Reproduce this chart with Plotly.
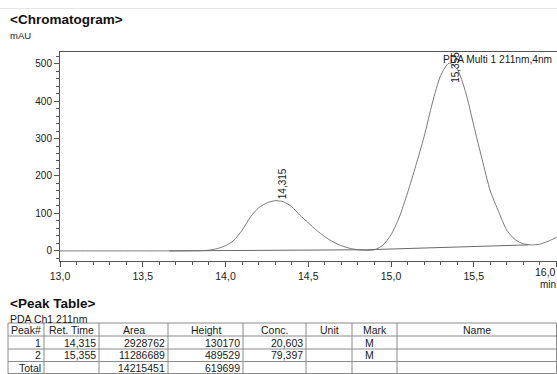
import plotly.graph_objects as go

W, H = 557, 374

# ---------------- data ----------------
time_min = [13.00, 13.05, 13.10, 13.15, 13.20, 13.25, 13.30, 13.35, 13.40, 13.45,
            13.50, 13.55, 13.60, 13.65, 13.70, 13.75, 13.80, 13.85, 13.90, 13.95,
            14.00, 14.05, 14.10, 14.15, 14.20, 14.25, 14.30, 14.35, 14.40, 14.45,
            14.50, 14.55, 14.60, 14.65, 14.70, 14.75, 14.80, 14.85, 14.90, 14.95,
            15.00, 15.05, 15.10, 15.15, 15.20, 15.25, 15.30, 15.35, 15.40, 15.45,
            15.50, 15.55, 15.60, 15.65, 15.70, 15.75, 15.80, 15.85, 15.90, 15.95,
            16.00]
signal_mau = [0, 0, 0, 0, 0, 0, 0, 0, 0, 0,
              0, 0, 0, 0, 0, 0.1, 0.2, 0.5, 2, 6,
              14, 28, 55, 90, 115, 128, 134, 131, 118, 95,
              75, 55, 38, 24, 14, 7, 3, 1.5, 3, 15,
              43, 90, 155, 228, 305, 395, 468, 501, 485, 425,
              335, 245, 160, 105, 55, 30, 19, 16, 18, 26,
              36]

baseline_time = [13.66, 14.85, 15.83]
baseline_mau = [0, 3, 16]

peak_rt = [14.315, 15.355]
peak_label = ["14,315", "15,355"]
peak_label_y = [133, 444]

x_tick_vals = [13.0, 13.5, 14.0, 14.5, 15.0, 15.5, 16.0]
x_tick_text = ["13,0", "13,5", "14,0", "14,5", "15,0", "15,5", "16,0"]
x_range = [13.0, 16.003]
y_range = [-27, 531]

table_header = ["Peak#", "Ret. Time", "Area", "Height", "Conc.", "Unit", "Mark", "Name"]
table_rows = [
    ["1", "14,315", "2928762", "130170", "20,603", "", "M", ""],
    ["2", "15,355", "11286689", "489529", "79,397", "", "M", ""],
    ["Total", "", "14215451", "619699", "", "", "", ""],
]

# ---------------- layout helpers (reference pixel -> paper) ----------------
def px(x):
    return x / W

def py(y):
    return 1 - y / H

plot_left, plot_top, plot_bottom = 60, 52, 261

FONT = "Liberation Sans, Arial, sans-serif"
TXT = "#1a1a1a"
LINE = "#7a7a7a"

fig = go.Figure()
fig.add_trace(go.Scatter(x=time_min, y=signal_mau, mode="lines",
                         line=dict(color=LINE, width=1, shape="spline", smoothing=0.7),
                         hoverinfo="skip", showlegend=False))
fig.add_trace(go.Scatter(x=baseline_time, y=baseline_mau, mode="lines",
                         line=dict(color="#6a6a6a", width=1),
                         hoverinfo="skip", showlegend=False))

annotations = []
shapes = []

# peak labels
for rt, lab, ly in zip(peak_rt, peak_label, peak_label_y):
    annotations.append(dict(x=rt, y=ly, xref="x", yref="y", text=lab, textangle=-90,
                            showarrow=False, xanchor="center", yanchor="bottom", xshift=5,
                            font=dict(family=FONT, size=10, color=TXT)))

annotations.append(dict(x=px(441), y=py(60), xref="paper", yref="paper",
                        text="PDA Multi 1 211nm,4nm", showarrow=False,
                        xanchor="left", yanchor="middle",
                        font=dict(family=FONT, size=10.2, color=TXT)))

# last x tick label is pulled inside the frame (as in the instrument printout)
x_labels_axis = x_tick_text[:-1] + [""]
annotations.append(dict(x=px(558), y=py(272), xref="paper", yref="paper", text=x_tick_text[-1],
                        showarrow=False, xanchor="right", yanchor="middle",
                        font=dict(family=FONT, size=10.5, color=TXT)))

# titles
annotations += [
    dict(x=px(8), y=py(20), xref="paper", yref="paper", text="<b>&lt;Chromatogram&gt;</b>",
         showarrow=False, xanchor="left", yanchor="middle",
         font=dict(family=FONT, size=13.5, color="#111")),
    dict(x=px(8), y=py(35), xref="paper", yref="paper", text="mAU",
         showarrow=False, xanchor="left", yanchor="middle",
         font=dict(family=FONT, size=9.5, color=TXT)),
    dict(x=px(558), y=py(284), xref="paper", yref="paper", text="min",
         showarrow=False, xanchor="right", yanchor="middle",
         font=dict(family=FONT, size=10, color=TXT)),
    dict(x=px(8), y=py(303), xref="paper", yref="paper", text="<b>&lt;Peak Table&gt;</b>",
         showarrow=False, xanchor="left", yanchor="middle",
         font=dict(family=FONT, size=13.5, color="#111")),
    dict(x=px(8), y=py(319), xref="paper", yref="paper", text="PDA Ch1 211nm",
         showarrow=False, xanchor="left", yanchor="middle",
         font=dict(family=FONT, size=10.5, color=TXT)),
]

# thin separator line at top
shapes.append(dict(type="line", xref="paper", yref="paper", x0=0, x1=1, y0=py(8.5), y1=py(8.5),
                   line=dict(color="#e6e6e6", width=1)))

# table grid
col_edges = [8, 44, 99, 168, 243, 306, 352, 397, 556.5]
row_edges = [323, 336, 349, 361.5, 373.5]
for xe in col_edges:
    shapes.append(dict(type="line", xref="paper", yref="paper", x0=px(xe), x1=px(xe),
                       y0=py(row_edges[0]), y1=py(row_edges[-1]),
                       line=dict(color="#8a8a8a", width=1)))
for ye in row_edges:
    shapes.append(dict(type="line", xref="paper", yref="paper", x0=px(col_edges[0]), x1=px(col_edges[-1]),
                       y0=py(ye), y1=py(ye), line=dict(color="#8a8a8a", width=1)))

# header
for i, h in enumerate(table_header):
    cx = (col_edges[i] + col_edges[i + 1]) / 2
    cy = (row_edges[0] + row_edges[1]) / 2
    annotations.append(dict(x=px(cx), y=py(cy), xref="paper", yref="paper", text=h,
                            showarrow=False, xanchor="center", yanchor="middle",
                            font=dict(family=FONT, size=10.5, color=TXT)))
# rows
for r, row in enumerate(table_rows):
    cy = (row_edges[r + 1] + row_edges[r + 2]) / 2
    for i, val in enumerate(row):
        if not val:
            continue
        if table_header[i] == "Mark":
            x, anchor = (col_edges[i] + col_edges[i + 1]) / 2 - 5, "center"
        else:
            x, anchor = col_edges[i + 1] - 1, "right"
        annotations.append(dict(x=px(x), y=py(cy), xref="paper", yref="paper", text=val,
                                showarrow=False, xanchor=anchor, yanchor="middle",
                                font=dict(family=FONT, size=10.5, color=TXT)))

fig.update_layout(
    width=W, height=H,
    margin=dict(l=0, r=0, t=0, b=0, pad=0),
    paper_bgcolor="white", plot_bgcolor="white",
    showlegend=False,
    xaxis=dict(domain=[px(plot_left), 1], range=x_range, automargin=False,
               showgrid=False, zeroline=False, showline=True, linecolor="#555", linewidth=1,
               mirror=True, ticks="outside", ticklen=5, tickcolor="#555",
               tickmode="array", tickvals=x_tick_vals, ticktext=x_labels_axis,
               minor=dict(dtick=0.1, tick0=13.0, ticks="outside", ticklen=3, tickcolor="#555"),
               tickfont=dict(family=FONT, size=10.5, color=TXT)),
    yaxis=dict(domain=[py(plot_bottom), py(plot_top)], range=y_range, automargin=False,
               showgrid=False, zeroline=False, showline=True, linecolor="#555", linewidth=1,
               ticks="outside", ticklen=5, tickcolor="#555",
               tick0=0, dtick=100,
               minor=dict(dtick=20, ticks="outside", ticklen=3, tickcolor="#555"),
               tickfont=dict(family=FONT, size=10, color=TXT)),
    annotations=annotations,
    shapes=shapes,
)

fig.write_html("out.html", config={"displayModeBar": False},
               post_script="document.body.style.margin='0';document.body.style.overflow='hidden';")
